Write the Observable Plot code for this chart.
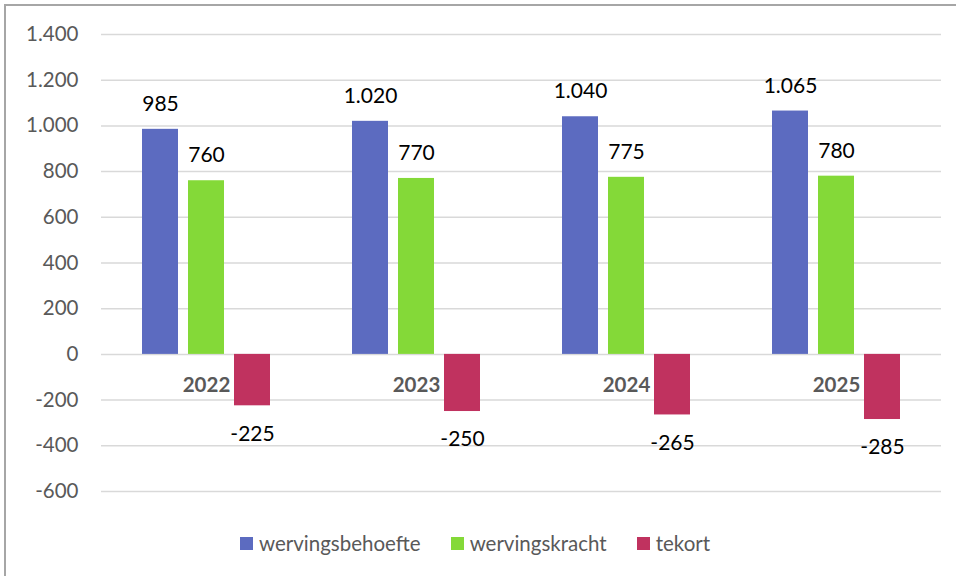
<!DOCTYPE html>
<html>
<head>
<meta charset="utf-8">
<script src="https://cdn.jsdelivr.net/npm/d3@7"></script>
<script src="https://cdn.jsdelivr.net/npm/@observablehq/plot@0.6"></script>
<style>
  body { margin: 0; background: #fff; font-family: Lato, "Open Sans", sans-serif; }
  #wrap { position: relative; width: 956px; height: 576px; overflow: hidden; }
  #border { position: absolute; left: 4px; top: 4px; width: 960px; height: 580px; border-top: 2px solid #a6a6a6; border-left: 2px solid #a6a6a6; pointer-events: none; }
  #chart { position: absolute; left: 0; top: 0; }
  #legend { position: absolute; left: 240px; top: 532px; display: flex; align-items: center; font-size: 20.5px; color: #595959; line-height: 22px; }
  .item { display: flex; align-items: center; margin-right: 30px; }
  .sw { width: 13px; height: 13px; margin-right: 6px; }
</style>
</head>
<body>
<div id="wrap">
  <div id="chart"></div>
  <div id="legend"></div>
  <div id="border"></div>
</div>
<script>
const years = ["2022", "2023", "2024", "2025"];
const series = ["wervingsbehoefte", "wervingskracht", "tekort"];
const wervingsbehoefte = [985, 1020, 1040, 1065];
const wervingskracht = [760, 770, 775, 780];
const tekort = [-225, -250, -265, -285];
const colors = ["#5c6bc0", "#84d938", "#c0325f"];
const yTicks = [-600, -400, -200, 0, 200, 400, 600, 800, 1000, 1200, 1400];

const nl = d3.formatLocale({decimal: ",", thousands: ".", grouping: [3], currency: ["€ ", ""], minus: "-"});
const fmt = nl.format(",");

const valuesBySeries = [wervingsbehoefte, wervingskracht, tekort];
const rows = [];
years.forEach((yr, i) => {
  series.forEach((s, j) => rows.push({year: yr, series: s, value: valuesBySeries[j][i]}));
});
const posRows = rows.filter(d => d.value >= 0);
const negRows = rows.filter(d => d.value < 0);

const chart = Plot.plot({
  width: 956,
  height: 520,
  marginTop: 34,
  marginBottom: 29,
  marginLeft: 100,
  marginRight: 15,
  style: {fontFamily: "Lato, 'Open Sans', sans-serif", fontSize: "20.5px", color: "#595959", background: "transparent"},
  fx: {domain: years, padding: 0, axis: null},
  x: {domain: series, paddingInner: 0.21, paddingOuter: 0.84, axis: null},
  y: {domain: [-600, 1400], ticks: yTicks, tickFormat: fmt, tickSize: 0, tickPadding: 23, label: null},
  color: {domain: series, range: colors},
  marks: [
    Plot.ruleY(yTicks, {stroke: "#d9d9d9", strokeWidth: 1.5}),
    Plot.barY(rows, {fx: "year", x: "series", y: "value", fill: "series"}),
    Plot.text(posRows, {fx: "year", x: "series", y: "value", text: d => fmt(d.value),
      dy: -25, fill: "#000", fontSize: 21, lineAnchor: "middle"}),
    Plot.text(negRows, {fx: "year", x: "series", y: "value", text: d => fmt(d.value),
      dy: 28, fill: "#000", fontSize: 21, lineAnchor: "middle"}),
    Plot.text(years, {fx: d => d, y: () => 0, text: d => d, dy: 31, fill: "#595959",
      fontWeight: "bold", fontSize: 20.5, lineAnchor: "middle"})
  ]
});
document.getElementById("chart").appendChild(chart);

const legend = document.getElementById("legend");
series.forEach((s, i) => {
  const item = document.createElement("div");
  item.className = "item";
  const sw = document.createElement("div");
  sw.className = "sw";
  sw.style.background = colors[i];
  const t = document.createElement("span");
  t.textContent = s;
  item.appendChild(sw);
  item.appendChild(t);
  legend.appendChild(item);
});
</script>
</body>
</html>
